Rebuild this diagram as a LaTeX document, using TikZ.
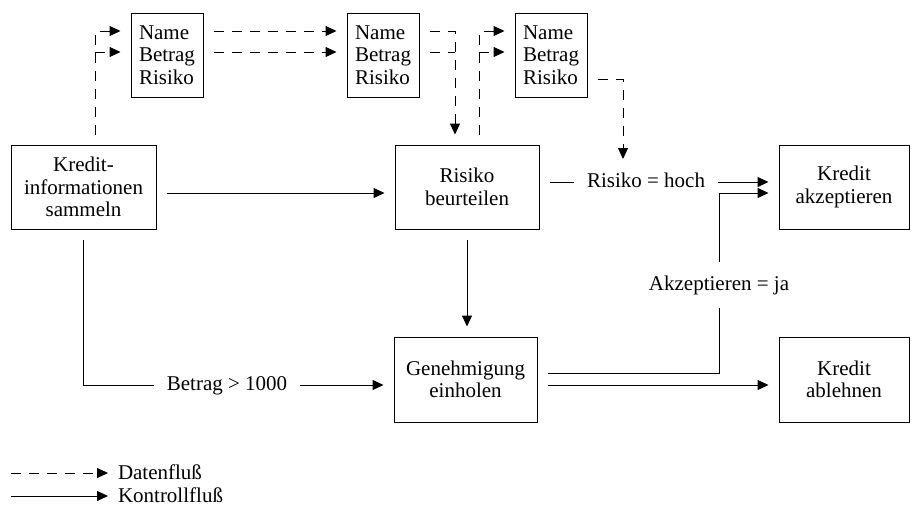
\documentclass[tikz,border=0pt]{standalone}
\usepackage{fontspec}
\setmainfont{Liberation Serif}
\usetikzlibrary{arrows.meta,calc}
\begin{document}
\begin{tikzpicture}[x=1pt,y=-1pt,
  font=\fontsize{21}{22.5}\selectfont,
  line width=1pt,
  proc/.style={draw, align=center, inner sep=0pt, outer sep=10.5pt, minimum height=84pt},
  store/.style={draw, align=left, inner sep=0pt, outer sep=10.5pt, minimum width=72pt, minimum height=84pt},
  lbl/.style={inner sep=3pt, outer sep=10pt, text height=15pt, text depth=5pt},
  flow/.style={-{Triangle[length=11pt,width=10pt]}},
  data/.style={flow, dash pattern=on 10pt off 8pt},
  datanohead/.style={dash pattern=on 10pt off 8pt},
  ctrl/.style={flow}]
\useasboundingbox (0,0) rectangle (913,506);

% rows of the data stores
\coordinate (rowA) at (0,31);
\coordinate (rowB) at (0,52);
\coordinate (rowC) at (0,79);
\coordinate (rowM) at (0,193);
\coordinate (rowG) at (0,373);

% processes
\node[proc, minimum width=145pt] (kred) at (83.5,187) {Kredit-\\informationen\\sammeln};
\node[proc, minimum width=144pt] (risk) at (467,187) {Risiko\\beurteilen};
\node[proc, minimum width=143pt, minimum height=85pt] (gen) at (465.5,379.5) {Genehmigung\\einholen};
\node[proc, minimum width=130pt] (akz) at (844,187) {Kredit\\akzeptieren};
\node[proc, minimum width=130pt, minimum height=85pt] (abl) at (844,379.5) {Kredit\\ablehnen};

% data stores
\node[store] (d1) at (167,55) {Name\\Betrag\\Risiko};
\node[store] (d2) at (383,55) {Name\\Betrag\\Risiko};
\node[store] (d3) at (551,55) {Name\\Betrag\\Risiko};

% conditions
\node[lbl] (hoch) at (646,182) {Risiko = hoch};
\node[lbl] (ja) at (719,285) {Akzeptieren = ja};
\node[lbl] (bet) at (227,385) {Betrag > 1000};

% data flow
\coordinate (kup) at ([xshift=11.5pt]kred.north);
\draw[data] (kup) |- (d1.west |- rowA);
\draw[data] (kup |- rowB) -- (d1.west |- rowB);
\draw[data] (d1.east |- rowA) -- (d2.west |- rowA);
\draw[data] (d1.east |- rowB) -- (d2.west |- rowB);
\coordinate (rdown) at ([xshift=-12pt]risk.north);
\draw[data] (d2.east |- rowA) -| (rdown);
\draw[datanohead] (d2.east |- rowB) -- (rdown |- rowB);
\coordinate (rup) at ([xshift=12pt]risk.north);
\draw[data] (rup) |- (d3.west |- rowA);
\draw[data] (rup |- rowB) -- (d3.west |- rowB);
\coordinate (hin) at ([xshift=-23pt]hoch.north);
\draw[data] (d3.east |- rowC) -| (hin);

% control flow
\draw[ctrl] (kred.east |- rowM) -- (risk.west |- rowM);
\draw[ctrl] (risk.south) -- (risk.south |- gen.north);
\draw (risk.east |- hoch) -- (hoch.west);
\draw[ctrl] (hoch.east) -- (akz.west |- hoch);
\draw (kred.south) |- (bet.west);
\draw[ctrl] (bet.east) -- (gen.west |- bet);
\draw (gen.east |- rowG) -| (ja.south);
\draw[ctrl] (ja.north) |- (akz.west |- rowM);
\draw[ctrl] (gen.east |- bet) -- (abl.west |- bet);

% legend
\node[anchor=base west, inner sep=0pt, outer sep=0pt] (ldata) at (118,479) {Datenfluß};
\node[anchor=base west, inner sep=0pt, outer sep=0pt] (lctrl) at (118,502) {Kontrollfluß};
\coordinate (ldstart) at (11,473);
\coordinate (lcstart) at (11,496);
\draw[data, shorten >=10pt] (ldstart) -- (ldata.west |- ldstart);
\draw[ctrl, shorten >=10pt] (lcstart) -- (lctrl.west |- lcstart);
\end{tikzpicture}
\end{document}
